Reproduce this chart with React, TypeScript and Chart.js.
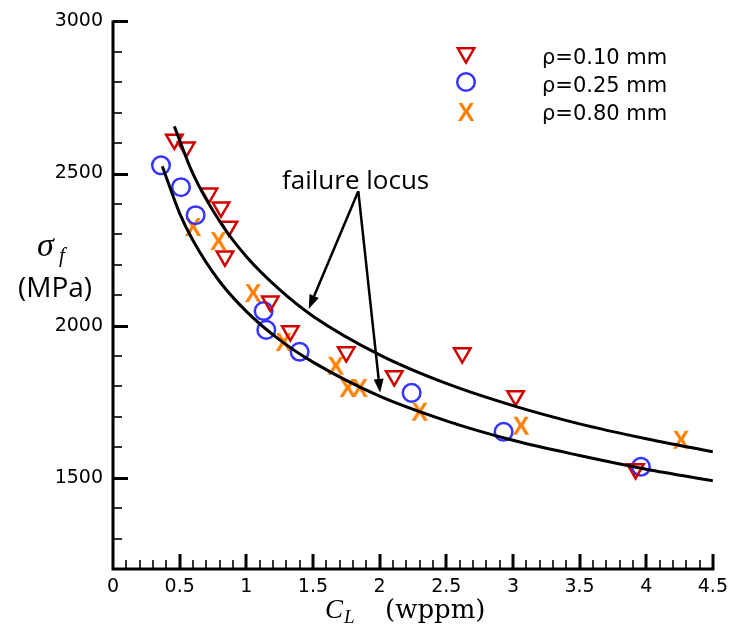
import React, { useEffect, useRef } from "react";
import { Chart, registerables } from "chart.js";

Chart.register(...registerables);

// ---- data ----
const triX = [0.46, 0.55, 0.72, 0.81, 0.87, 0.84, 1.18, 1.33, 1.75, 2.11, 2.62, 3.02, 3.92];
const triY = [2612, 2586, 2435, 2389, 2326, 2228, 2080, 1982, 1913, 1834, 1910, 1769, 1529];

const circX = [0.36, 0.51, 0.62, 1.13, 1.15, 1.4, 2.24, 2.93, 3.96];
const circY = [2527, 2455, 2363, 2048, 1986, 1914, 1779, 1651, 1536];

const crossX = [0.6, 0.79, 1.05, 1.28, 1.67, 1.76, 1.85, 2.3, 3.06, 4.26];
const crossY = [2324, 2278, 2107, 1946, 1868, 1795, 1795, 1717, 1671, 1625];

const upperX = [0.46, 0.6, 0.8, 1.0, 1.25, 1.5, 2.0, 2.5, 3.0, 3.5, 4.0, 4.5];
const upperY = [2655, 2499, 2343, 2227, 2118, 2031, 1904, 1810, 1737, 1677, 1628, 1585];

const lowerX = [0.37, 0.5, 0.6, 0.8, 1.0, 1.25, 1.5, 2.0, 2.5, 3.0, 3.5, 4.0, 4.5];
const lowerY = [2524, 2369, 2280, 2145, 2047, 1953, 1880, 1768, 1687, 1623, 1573, 1528, 1490];

const legendLabels = ["ρ=0.10 mm", "ρ=0.25 mm", "ρ=0.80 mm"];

const xMajorTicks = [0, 0.5, 1, 1.5, 2, 2.5, 3, 3.5, 4, 4.5];
const yMajorTicks = [1500, 2000, 2500, 3000];
const xMinorStep = 0.1;
const yMinorStep = 100;

// annotation: "failure locus" text, arrow origin and arrow tips (data coords)
const annotText = "failure locus";
const annotTextPos = [1.82, 2448];
const arrowStart = [1.84, 2442];
const arrowTipsX = [1.468, 2.004];
const arrowTipsY = [2055, 1779];

const RED = "#d00000";
const BLUE = "#3535ff";
const ORANGE = "#ff8000";

function makeCrossImage(): HTMLCanvasElement {
  const c = document.createElement("canvas");
  c.width = 24;
  c.height = 24;
  const ctx = c.getContext("2d")!;
  ctx.font = "bold 25px 'Liberation Sans', Arial, sans-serif";
  ctx.fillStyle = ORANGE;
  ctx.textAlign = "center";
  ctx.textBaseline = "alphabetic";
  const m = ctx.measureText("X");
  const y = c.height / 2 + (m.actualBoundingBoxAscent - m.actualBoundingBoxDescent) / 2;
  ctx.fillText("X", c.width / 2, y);
  return c;
}

function drawTri(ctx: CanvasRenderingContext2D, x: number, y: number, r: number) {
  ctx.beginPath();
  for (let i = 0; i < 3; i++) {
    const a = Math.PI + (i * 2 * Math.PI) / 3;
    const px = x + Math.sin(a) * r;
    const py = y - Math.cos(a) * r;
    if (i === 0) ctx.moveTo(px, py);
    else ctx.lineTo(px, py);
  }
  ctx.closePath();
  ctx.stroke();
}

export default function App() {
  const ref = useRef<HTMLCanvasElement>(null);

  useEffect(() => {
    const canvas = ref.current!;
    const crossImg = makeCrossImage();

    const overlay = {
      id: "overlay",
      afterDatasetsDraw(chart: any) {
        const ctx: CanvasRenderingContext2D = chart.ctx;
        const xs = chart.scales.x;
        const ys = chart.scales.y;
        const x0 = xs.getPixelForValue(0);
        const yb = ys.getPixelForValue(1200);
        const yTop = ys.getPixelForValue(3000);
        const xRight = xs.getPixelForValue(4.5);
        ctx.save();

        // minor ticks
        ctx.strokeStyle = "#333";
        ctx.lineWidth = 2;
        ctx.beginPath();
        for (let i = 1; i <= 45; i++) {
          const v = i * xMinorStep;
          if (i % 5 === 0) continue;
          const px = Math.round(xs.getPixelForValue(v));
          ctx.moveTo(px, yb);
          ctx.lineTo(px, yb - 9);
        }
        for (let v = 1300; v < 3000; v += yMinorStep) {
          if (v % 500 === 0) continue;
          const py = Math.round(ys.getPixelForValue(v));
          ctx.moveTo(x0, py);
          ctx.lineTo(x0 + 9, py);
        }
        ctx.stroke();

        // major ticks
        ctx.strokeStyle = "#000";
        ctx.lineWidth = 3;
        ctx.beginPath();
        for (const v of xMajorTicks) {
          if (v === 0) continue;
          const px = Math.round(xs.getPixelForValue(v));
          ctx.moveTo(px, yb);
          ctx.lineTo(px, yb - 15);
        }
        for (const v of yMajorTicks) {
          const py = Math.round(ys.getPixelForValue(v)) + 0.5;
          ctx.moveTo(x0, py);
          ctx.lineTo(x0 + 15, py);
        }
        ctx.stroke();

        // axis lines
        ctx.lineWidth = 3;
        ctx.beginPath();
        ctx.moveTo(x0, yTop - 1);
        ctx.lineTo(x0, yb + 1.5);
        ctx.moveTo(x0 - 1.5, yb);
        ctx.lineTo(xRight + 1.5, yb);
        ctx.stroke();

        // legend
        const lx = 466;
        const rows = [55, 82, 112];
        const baselines = [64, 92, 120];
        ctx.lineWidth = 2.5;
        ctx.strokeStyle = RED;
        drawTri(ctx, lx, rows[0] - 2, 9.5);
        ctx.strokeStyle = BLUE;
        ctx.beginPath();
        ctx.arc(lx, rows[1], 8.8, 0, Math.PI * 2);
        ctx.stroke();
        ctx.drawImage(crossImg, lx - crossImg.width / 2, rows[2] - crossImg.height / 2);
        ctx.fillStyle = "#000";
        ctx.font = "21px 'DejaVu Sans', sans-serif";
        ctx.textAlign = "left";
        ctx.textBaseline = "alphabetic";
        legendLabels.forEach((t, i) => ctx.fillText(t, 542, baselines[i]));

        // annotation
        ctx.font = "26px 'Open Sans', sans-serif";
        ctx.textAlign = "center";
        ctx.fillText(annotText, xs.getPixelForValue(annotTextPos[0]), ys.getPixelForValue(annotTextPos[1]));
        const sx = xs.getPixelForValue(arrowStart[0]);
        const sy = ys.getPixelForValue(arrowStart[1]);
        ctx.strokeStyle = "#000";
        ctx.fillStyle = "#000";
        ctx.lineWidth = 2.5;
        for (let i = 0; i < arrowTipsX.length; i++) {
          const tx = xs.getPixelForValue(arrowTipsX[i]);
          const ty = ys.getPixelForValue(arrowTipsY[i]);
          const ang = Math.atan2(ty - sy, tx - sx);
          const hl = 14;
          const hw = 5;
          const bx = tx - Math.cos(ang) * hl;
          const by = ty - Math.sin(ang) * hl;
          ctx.beginPath();
          ctx.moveTo(sx, sy);
          ctx.lineTo(bx, by);
          ctx.stroke();
          ctx.beginPath();
          ctx.moveTo(tx, ty);
          ctx.lineTo(bx - Math.sin(ang) * hw, by + Math.cos(ang) * hw);
          ctx.lineTo(bx + Math.sin(ang) * hw, by - Math.cos(ang) * hw);
          ctx.closePath();
          ctx.fill();
        }

        // x title: C_L (wppm)
        ctx.textAlign = "left";
        ctx.fillStyle = "#000";
        const base = 618;
        ctx.font = "italic 27px 'Liberation Serif', serif";
        ctx.fillText("C", 325, base);
        ctx.font = "italic 19px 'Liberation Serif', serif";
        ctx.fillText("L", 344, base + 5);
        ctx.font = "26px 'DejaVu Serif', serif";
        ctx.fillText("(wppm)", 385, base);

        // y title: sigma_f (MPa)
        ctx.font = "italic 34px 'Liberation Serif', serif";
        ctx.fillText("σ", 37, 256);
        ctx.font = "italic 21px 'Liberation Serif', serif";
        ctx.fillText("f", 59, 262);
        ctx.font = "28px 'Open Sans', sans-serif";
        ctx.textAlign = "center";
        ctx.fillText("(MPa)", 55, 297);

        ctx.restore();
      },
    };

    const chart = new Chart(canvas, {
      type: "scatter",
      data: {
        datasets: [
          {
            type: "line",
            data: upperX.map((x, i) => ({ x, y: upperY[i] })),
            borderColor: "#000",
            borderWidth: 3,
            pointRadius: 0,
            cubicInterpolationMode: "monotone",
            fill: false,
          },
          {
            type: "line",
            data: lowerX.map((x, i) => ({ x, y: lowerY[i] })),
            borderColor: "#000",
            borderWidth: 3,
            pointRadius: 0,
            cubicInterpolationMode: "monotone",
            fill: false,
          },
          {
            data: triX.map((x, i) => ({ x, y: triY[i] })),
            pointStyle: "triangle",
            rotation: 180,
            pointRadius: 9.5,
            borderColor: RED,
            backgroundColor: "rgba(0,0,0,0)",
            borderWidth: 2.5,
          },
          {
            data: circX.map((x, i) => ({ x, y: circY[i] })),
            pointStyle: "circle",
            pointRadius: 8.8,
            borderColor: BLUE,
            backgroundColor: "rgba(0,0,0,0)",
            borderWidth: 2.5,
          },
          {
            data: crossX.map((x, i) => ({ x, y: crossY[i] })),
            pointStyle: crossImg as any,
            pointRadius: 10,
            borderColor: ORANGE,
            backgroundColor: ORANGE,
          },
        ] as any,
      },
      options: {
        animation: false,
        responsive: false,
        devicePixelRatio: 1,
        layout: { padding: { left: 0, top: 19, right: 18, bottom: 0 } },
        plugins: {
          legend: { display: false },
          tooltip: { enabled: false },
        },
        scales: {
          x: {
            type: "linear",
            min: 0,
            max: 4.5,
            grid: { display: false, drawTicks: false },
            border: { display: false },
            afterBuildTicks: (s: any) => {
              s.ticks = xMajorTicks.map((v) => ({ value: v }));
            },
            afterFit: (s: any) => {
              s.height = 66;
            },
            ticks: {
              padding: 7,
              color: "#000",
              maxRotation: 0,
              autoSkip: false,
              font: { family: "'DejaVu Sans', sans-serif", size: 19 },
              callback: (v: any) => String(v),
            },
          },
          y: {
            type: "linear",
            min: 1200,
            max: 3000,
            grid: { display: false, drawTicks: false },
            border: { display: false },
            afterBuildTicks: (s: any) => {
              s.ticks = yMajorTicks.map((v) => ({ value: v }));
            },
            afterFit: (s: any) => {
              s.width = 113;
            },
            ticks: {
              padding: 10,
              color: "#000",
              autoSkip: false,
              font: { family: "'DejaVu Sans', sans-serif", size: 19 },
              callback: (v: any) => String(v),
            },
          },
        },
      } as any,
      plugins: [overlay],
    });

    return () => chart.destroy();
  }, []);

  return (
    <div style={{ position: "absolute", left: 0, top: 0, width: 735, height: 635, background: "#fff" }}>
      <canvas ref={ref} width={735} height={635} style={{ display: "block" }} />
    </div>
  );
}
